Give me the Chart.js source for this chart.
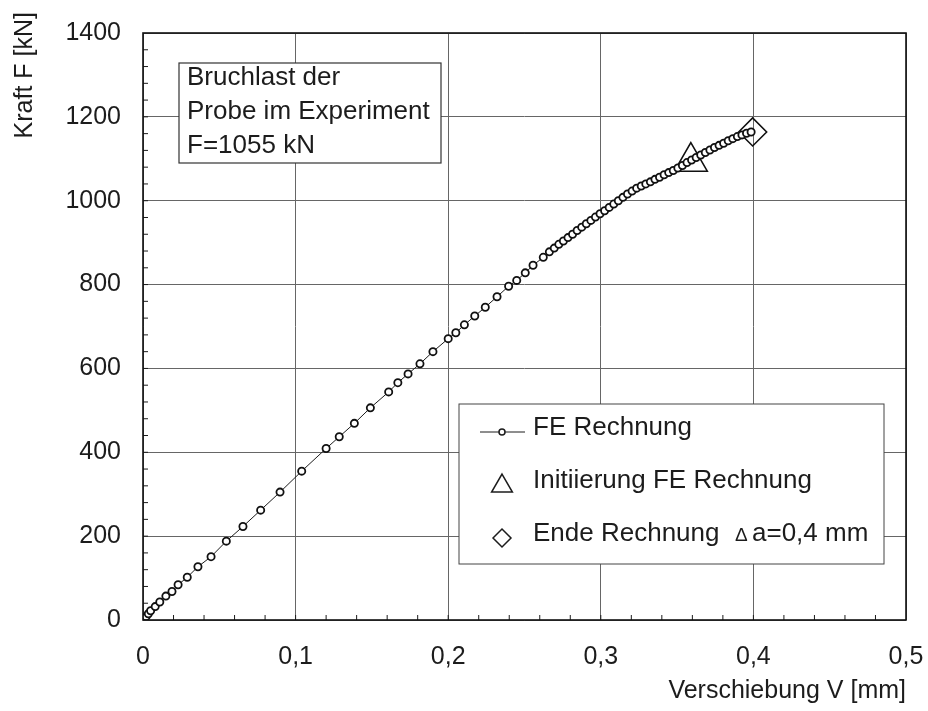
<!DOCTYPE html>
<html>
<head>
<meta charset="utf-8">
<script src="https://cdn.jsdelivr.net/npm/chart.js@4.4.1/dist/chart.umd.min.js"></script>
<style>
    body { margin: 0; background: #fff; }
    canvas { display: block; }
</style>
</head>
<body>
<canvas id="chart" width="928" height="711"></canvas>
<script>
// FE Rechnung, Verschiebung V [mm] / Kraft F [kN]
const feX = [0, 0.002, 0.0035, 0.005, 0.008, 0.011, 0.015, 0.019, 0.023, 0.029,
    0.036, 0.0446, 0.0546, 0.0655, 0.0771, 0.0898, 0.104, 0.12, 0.1286, 0.1385,
    0.149, 0.161, 0.167, 0.1737, 0.1815, 0.19, 0.2, 0.205, 0.2106, 0.2174,
    0.2243, 0.232, 0.2396, 0.2449, 0.2505, 0.2556, 0.2623, 0.2663, 0.2695, 0.2725,
    0.2755, 0.2785, 0.2815, 0.2845, 0.2875, 0.2905, 0.2935, 0.2965, 0.2995, 0.3025,
    0.3055, 0.3085, 0.3115, 0.3145, 0.3175, 0.3205, 0.3235, 0.3265, 0.3295, 0.3325,
    0.3355, 0.3385, 0.3415, 0.3445, 0.3475, 0.3505, 0.3535, 0.3565, 0.3595, 0.3625,
    0.3655, 0.3685, 0.3715, 0.3745, 0.3775, 0.3805, 0.3835, 0.3865, 0.3895, 0.3925,
    0.3955, 0.3985]
const feY = [0, 8, 15, 22, 32, 43, 57, 68, 84, 102,
    127, 151, 188, 223, 262, 305, 355, 409, 437, 469,
    506, 544, 566, 587, 611, 640, 671, 685, 704, 725,
    746, 771, 796, 810, 828, 846, 865, 878, 887, 896,
    904, 912, 920, 929, 937, 945, 953, 961, 969, 976,
    984, 992, 1000, 1008, 1016, 1023, 1030, 1035, 1040, 1045,
    1051, 1056, 1062, 1067, 1072, 1078, 1084, 1091, 1097, 1103,
    1109, 1115, 1121, 1127, 1132, 1137, 1143, 1148, 1153, 1157,
    1161, 1164]

const initX = [0.359]
const initY = [1093]
const endX = [0.3995]
const endY = [1164]

const xTicks = [0, 0.1, 0.2, 0.3, 0.4, 0.5]
const yTicks = [0, 200, 400, 600, 800, 1000, 1200, 1400]
const noteLines = ['Bruchlast der', 'Probe im Experiment', 'F=1055 kN']

const FONT = '"Liberation Sans", Arial, sans-serif'
const INK = '#1c1c1c'
Chart.defaults.font.family = FONT
Chart.defaults.font.size = 25
Chart.defaults.color = INK

function pts(xs, ys) {
    return xs.map((v, i) => ({ x: v, y: ys[i] }))
}

function line(ctx, x1, y1, x2, y2) {
    ctx.beginPath()
    ctx.moveTo(x1, y1)
    ctx.lineTo(x2, y2)
    ctx.stroke()
}

function triangle(ctx, x, y, r) {
    ctx.beginPath()
    ctx.moveTo(x, y - r)
    ctx.lineTo(x + r * Math.sqrt(3) / 2, y + r / 2)
    ctx.lineTo(x - r * Math.sqrt(3) / 2, y + r / 2)
    ctx.closePath()
    ctx.stroke()
}

function diamond(ctx, x, y, r) {
    ctx.beginPath()
    ctx.moveTo(x - r, y)
    ctx.lineTo(x, y - r)
    ctx.lineTo(x + r, y)
    ctx.lineTo(x, y + r)
    ctx.closePath()
    ctx.stroke()
}

const frame = {
    id: 'frame',
    afterDraw(chart) {
        const { ctx, chartArea: a, scales: { x, y } } = chart
        ctx.save()

        // kleine Striche innen
        ctx.strokeStyle = INK
        ctx.lineWidth = 1
        for (let i = 1; i < 25; i++) {
            const px = x.getPixelForValue(i * 0.02)
            line(ctx, px, a.bottom, px, a.bottom - 5)
        }
        for (let i = 1; i < 35; i++) {
            const py = y.getPixelForValue(i * 40)
            line(ctx, a.left, py, a.left + 5, py)
        }

        ctx.lineWidth = 1.6
        ctx.strokeStyle = '#111'
        ctx.strokeRect(a.left, a.top, a.right - a.left, a.bottom - a.top)

        // y-Achsentitel
        ctx.save()
        ctx.translate(32, 12)
        ctx.rotate(-Math.PI / 2)
        ctx.font = '25px ' + FONT
        ctx.fillStyle = INK
        ctx.textAlign = 'right'
        ctx.textBaseline = 'alphabetic'
        ctx.fillText('Kraft F [kN]', 0, 0)
        ctx.restore()

        // Textfeld
        ctx.fillStyle = '#fff'
        ctx.fillRect(179, 63, 262, 100)
        ctx.strokeStyle = '#333'
        ctx.lineWidth = 1.2
        ctx.strokeRect(179, 63, 262, 100)
        ctx.fillStyle = INK
        ctx.font = '26px ' + FONT
        ctx.textAlign = 'left'
        ctx.textBaseline = 'alphabetic'
        noteLines.forEach((t, i) => ctx.fillText(t, 187, 85 + i * 34))

        // Legende
        ctx.fillStyle = '#fff'
        ctx.fillRect(459, 404, 425, 160)
        ctx.strokeStyle = '#444'
        ctx.lineWidth = 1
        ctx.strokeRect(459, 404, 425, 160)

        const ds = chart.data.datasets
        ctx.strokeStyle = INK
        ctx.lineWidth = 1
        line(ctx, 480, 432, 525, 432)
        ctx.lineWidth = 1.5
        ctx.beginPath()
        ctx.arc(502, 432, 3, 0, Math.PI * 2)
        ctx.fillStyle = '#fff'
        ctx.fill()
        ctx.stroke()
        triangle(ctx, 502, 486, 12)
        diamond(ctx, 502, 538, 9)

        ctx.fillStyle = INK
        ctx.font = '26px ' + FONT
        ctx.fillText(ds[0].label, 533, 435)
        ctx.fillText(ds[1].label, 533, 488)
        ctx.fillText('Ende Rechnung', 533, 541)
        ctx.font = '19px ' + FONT
        ctx.fillText('\u0394', 735, 541)
        ctx.font = '26px ' + FONT
        ctx.fillText('a=0,4 mm', 752, 541)

        ctx.restore()
    }
}

new Chart(document.getElementById('chart'), {
    type: 'scatter',
    data: {
        datasets: [
            {
                label: 'FE Rechnung',
                data: pts(feX, feY),
                showLine: true,
                borderColor: INK,
                borderWidth: 1,
                pointRadius: 3.6,
                pointBorderWidth: 1.8,
                pointBackgroundColor: '#fff',
                pointBorderColor: '#111',
                order: 0
            },
            {
                label: 'Initiierung FE Rechnung',
                data: pts(initX, initY),
                pointStyle: 'triangle',
                pointRadius: 19,
                pointBorderWidth: 1.6,
                pointBackgroundColor: 'rgba(0,0,0,0)',
                pointBorderColor: '#111',
                order: 1
            },
            {
                label: 'Ende Rechnung \u0394a=0,4 mm',
                data: pts(endX, endY),
                pointStyle: 'rectRot',
                pointRadius: 14,
                pointBorderWidth: 1.6,
                pointBackgroundColor: 'rgba(0,0,0,0)',
                pointBorderColor: '#111',
                order: 2
            }
        ]
    },
    options: {
        responsive: false,
        animation: false,
        layout: { padding: { top: 33, right: 22, bottom: 0, left: 0 } },
        plugins: { legend: { display: false }, tooltip: { enabled: false } },
        scales: {
            x: {
                type: 'linear',
                min: 0,
                max: 0.5,
                afterBuildTicks: s => { s.ticks = xTicks.map(v => ({ value: v })) },
                afterFit: s => {
                    s.height = 91
                    s.paddingLeft = 0
                    s.paddingRight = 0
                },
                ticks: {
                    padding: 22,
                    maxRotation: 0,
                    callback: v => v === 0 ? '0' : v.toFixed(1).replace('.', ',')
                },
                grid: { color: '#666', lineWidth: 1, drawTicks: false },
                border: { display: false },
                title: {
                    display: true,
                    text: 'Verschiebung V [mm]',
                    align: 'end',
                    padding: { top: 0, bottom: 5 }
                }
            },
            y: {
                type: 'linear',
                min: 0,
                max: 1400,
                afterBuildTicks: s => { s.ticks = yTicks.map(v => ({ value: v })) },
                afterFit: s => {
                    s.width = 143
                    s.paddingTop = 0
                    s.paddingBottom = 0
                },
                ticks: { padding: 22, callback: v => String(v) },
                grid: { color: '#666', lineWidth: 1, drawTicks: false },
                border: { display: false }
            }
        }
    },
    plugins: [frame]
})
</script>
</body>
</html>
